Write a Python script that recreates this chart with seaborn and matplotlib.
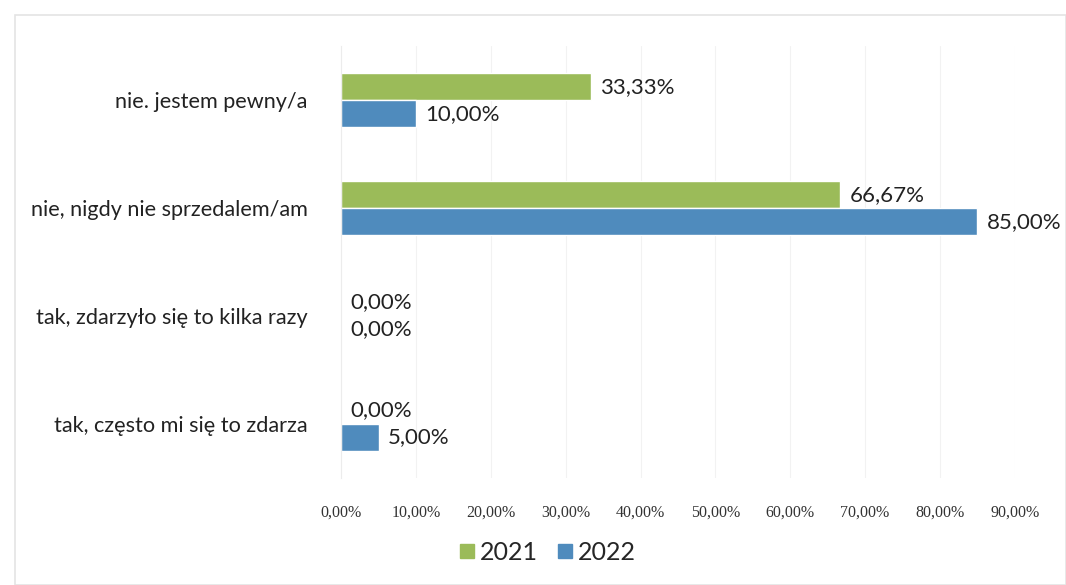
#!/usr/bin/env python3
"""
Grouped horizontal bar chart: 2021 vs 2022 answers
"""

import pandas as pd
import matplotlib.pyplot as plt
import seaborn as sns
from matplotlib.patches import Rectangle
from matplotlib.ticker import FuncFormatter

# Data
categories = [
    "nie. jestem pewny/a",
    "nie, nigdy nie sprzedalem/am",
    "tak, zdarzyło się to kilka razy",
    "tak, często mi się to zdarza",
]
values_2021 = [33.33, 66.67, 0.00, 0.00]
values_2022 = [10.00, 85.00, 0.00, 5.00]
years = ["2021", "2022"]
colors = ["#9bbb59", "#4f8bbd"]
x_ticks = [0, 10, 20, 30, 40, 50, 60, 70, 80, 90]


def pct(v):
    return f"{v:.2f}".replace(".", ",") + "%"


def create_chart():
    df = pd.DataFrame({
        "category": categories * 2,
        "value": values_2021 + values_2022,
        "year": [years[0]] * len(categories) + [years[1]] * len(categories),
    })

    sns.set_style("white")
    plt.rcParams['font.family'] = ['Lato', 'DejaVu Sans']

    fig = plt.figure(figsize=(10.66, 5.85), dpi=100)
    ax = fig.add_axes([0.32, 0.183, 0.632, 0.738])

    sns.barplot(
        data=df, y="category", x="value", hue="year",
        order=categories, hue_order=years, palette=colors,
        orient="h", width=0.5, ax=ax, saturation=1, legend=False,
    )

    # value labels
    for container, vals in zip(ax.containers, [values_2021, values_2022]):
        ax.bar_label(container, labels=[pct(v) for v in vals],
                     padding=7, fontsize=16, color="#222222")

    ax.set_xlim(0, 90)
    ax.set_xticks(x_ticks)
    ax.xaxis.set_major_formatter(FuncFormatter(lambda v, _: pct(v)))
    ax.tick_params(axis="x", labelsize=11.5, colors="#333333", pad=19, length=0)
    ax.tick_params(axis="y", labelsize=15.6, colors="#222222", pad=24, length=0)
    for lbl in ax.get_xticklabels():
        lbl.set_family(['Liberation Serif', 'DejaVu Serif'])

    ax.grid(axis="x", color="#f2f2f2", linewidth=0.8)
    ax.set_axisbelow(True)
    for side in ["top", "right", "bottom"]:
        ax.spines[side].set_visible(False)
    ax.spines["left"].set_color("#ececec")
    ax.set_xlabel("")
    ax.set_ylabel("")

    # legend with square markers
    handles = [plt.Line2D([0], [0], marker="s", linestyle="", markersize=10,
                          markerfacecolor=c, markeredgecolor=c) for c in colors]
    fig.legend(handles, years, loc="center", bbox_to_anchor=(0.51, 0.056),
               ncol=2, frameon=False, fontsize=18, handletextpad=-0.1,
               columnspacing=0.5, handlelength=1.2)

    # light frame around the chart area
    fig.patches.append(Rectangle((0.014, 0.0), 0.986, 0.975,
                                 transform=fig.transFigure, fill=False,
                                 edgecolor="#e4e4e4", linewidth=1.2))

    fig.savefig("out.png", dpi=100)
    plt.close(fig)


if __name__ == "__main__":
    create_chart()
